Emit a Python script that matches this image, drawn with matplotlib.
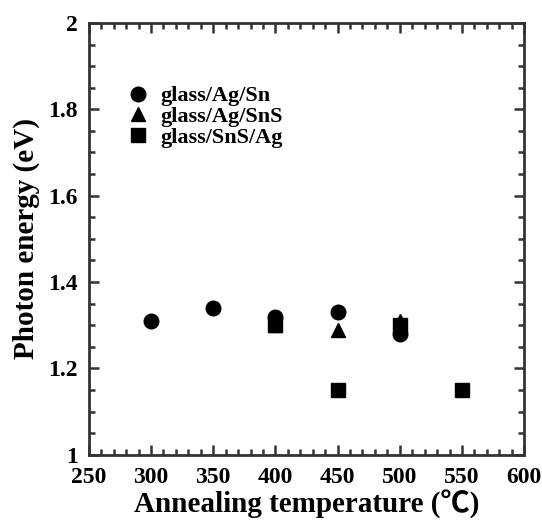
import matplotlib
matplotlib.use("Agg")
import matplotlib.pyplot as plt
from matplotlib.ticker import MultipleLocator

plt.rcParams['font.family'] = ['Liberation Serif', 'Noto Sans CJK JP', 'DejaVu Serif']
plt.rcParams['font.weight'] = 'bold'

# data
temp_ag_sn = [300, 350, 400, 450, 500]
energy_ag_sn = [1.31, 1.34, 1.32, 1.33, 1.28]

temp_ag_sns = [400, 450, 500]
energy_ag_sns = [1.30, 1.29, 1.31]

temp_sns_ag = [400, 450, 500, 550]
energy_sns_ag = [1.30, 1.15, 1.30, 1.15]

fig = plt.figure(figsize=(5.42, 5.21), dpi=100)
ax = fig.add_axes([0.164, 0.127, 0.803, 0.829])

ax.plot(temp_ag_sn, energy_ag_sn, 'o', color='black', ms=10.5, label='glass/Ag/Sn', zorder=3)
ax.plot(temp_ag_sns, energy_ag_sns, '^', color='black', ms=10.5, label='glass/Ag/SnS', zorder=3)
ax.plot(temp_sns_ag, energy_sns_ag, 's', color='black', ms=10.5, label='glass/SnS/Ag', zorder=3)

ax.set_xlim(250, 600)
ax.set_ylim(1, 2)
ax.xaxis.set_major_locator(MultipleLocator(50))
ax.xaxis.set_minor_locator(MultipleLocator(10))
ax.yaxis.set_major_locator(MultipleLocator(0.2))
ax.yaxis.set_minor_locator(MultipleLocator(0.05))
ax.yaxis.set_major_formatter(plt.FuncFormatter(lambda v, p: f"{v:g}"))

ax.tick_params(which='both', direction='in', top=True, right=True, width=1.8, color='#333333')
ax.tick_params(which='major', length=7, labelsize=17)
ax.tick_params(axis='y', which='major', pad=8)
ax.tick_params(axis='x', which='major', pad=9)
ax.tick_params(which='minor', length=4)
for lab in ax.get_xticklabels() + ax.get_yticklabels():
    lab.set_fontweight('bold')
for s in ax.spines.values():
    s.set_linewidth(2)
    s.set_color('#333333')

ax.set_xlabel('Annealing temperature (\u2103)', fontsize=21, fontweight='bold', labelpad=1)
ax.set_ylabel('Photon energy (eV)', fontsize=21, fontweight='bold', labelpad=6)

leg = ax.legend(loc='upper left', bbox_to_anchor=(0.062, 0.88), frameon=False,
                prop={'size': 16, 'weight': 'bold'}, handletextpad=0.5,
                labelspacing=0.0, handlelength=1.0, borderpad=0)

fig.savefig('out.png', dpi=100)
